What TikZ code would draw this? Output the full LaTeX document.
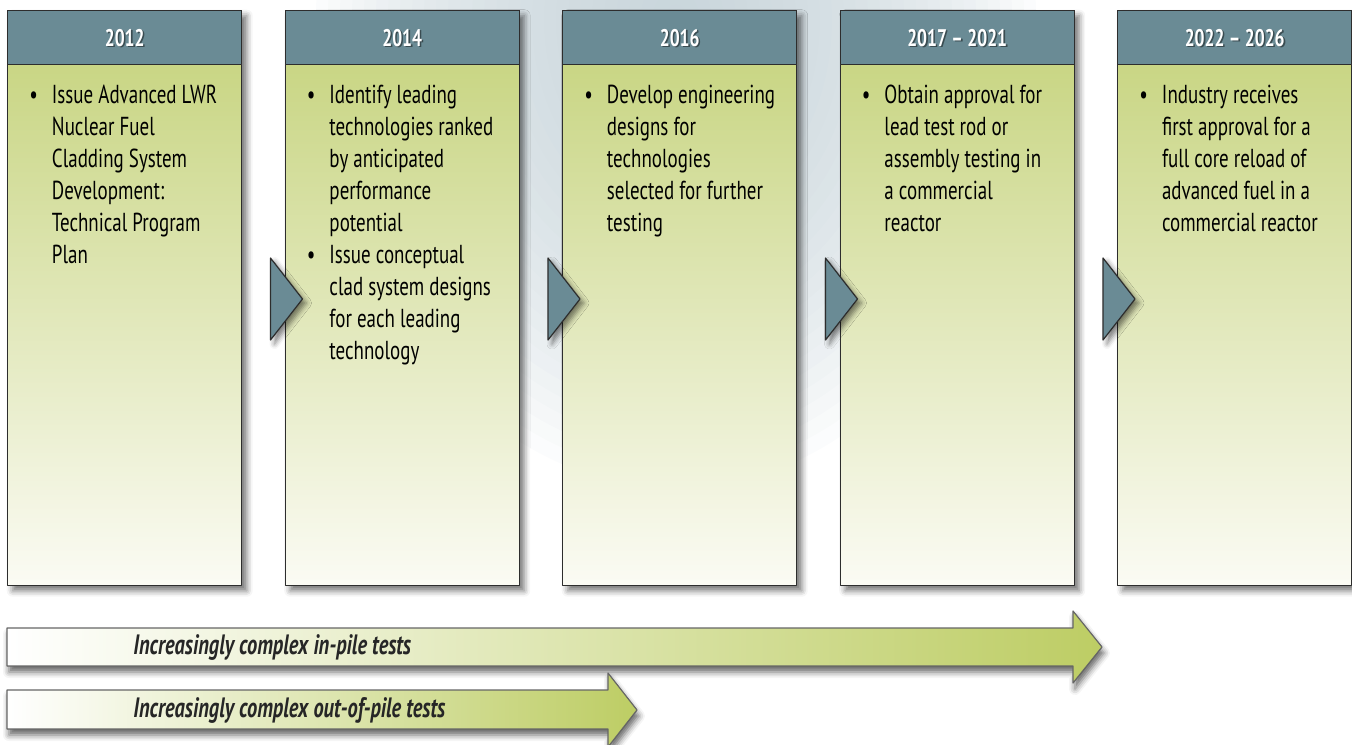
\documentclass[tikz,border=0pt]{standalone}
\usepackage{fontspec}
\setmainfont{PT Sans}[FakeStretch=0.73]
\usetikzlibrary{positioning,shadows.blur}
\definecolor{slate}{RGB}{106,139,149}
\definecolor{leaf}{RGB}{196,210,121}
\definecolor{pale}{RGB}{251,251,244}
\definecolor{haze}{RGB}{190,205,212}
\definecolor{arrowgreen}{RGB}{189,205,100}
\definecolor{edge}{RGB}{45,45,45}
% bullet list with a hanging second column
\newcommand\blist[1]{\begin{tabular}[t]{@{}l@{\hspace{7pt}}l@{}}#1\end{tabular}}
\begin{document}
\begin{tikzpicture}[x=0.5pt,y=-0.5pt,line join=round,font=\fontsize{13}{16}\selectfont]
    \def\gap{277.5}
    \tikzset{box/.style={draw=edge,line width=0.7pt,rectangle,anchor=north west,minimum width=117pt,minimum height=287.5pt,inner sep=0pt,top color=leaf,bottom color=pale,
            blur shadow={shadow xshift=2.5pt,shadow yshift=-2.5pt,shadow blur radius=3pt,shadow opacity=55}},
        head/.style={draw=edge,line width=0.7pt,fill=slate,anchor=north,minimum width=117pt,minimum height=27pt,inner sep=0pt},
        year/.style={text=white,font=\fontsize{12}{14}\selectfont\bfseries},
        tri/.style={draw=edge,line width=0.6pt,fill=slate,blur shadow={shadow xshift=2pt,shadow yshift=-2pt,shadow blur radius=2.5pt,shadow opacity=50}},
        items/.style={anchor=base west,inner sep=0pt,align=left},
        bar/.style={draw=black!60,line width=0.6pt,left color=white,right color=arrowgreen,
            blur shadow={shadow xshift=1pt,shadow yshift=-3pt,shadow blur radius=3pt,shadow opacity=60}},
        tag/.style={anchor=west,inner sep=0pt,text=black!85,font=\fontsize{14}{16}\selectfont\bfseries\itshape}}
    \useasboundingbox (0,0) rectangle (1352,744);

    % soft haze behind the middle columns, built up from thin layers
    \begin{scope}
        \clip (0,0) rectangle (1352,744);
        \foreach \k in {1,...,30}
            \fill[haze,opacity=0.055] (676,20) ellipse [x radius=\k*6pt,y radius=\k*7.8pt];
    \end{scope}

    % the five stages
    \foreach \i/\yr in {1/2012,2/2014,3/2016,4/2017 -- 2021,5/2022 -- 2026}{
        \pgfmathsetmacro\bx{7+(\i-1)*\gap}
        \path (\bx,10)node[box](box\i){};
        \path (box\i.north)node[head](h\i){};
        \path (h\i.center)node[year,text=black,text opacity=0.45,xshift=0.8pt,yshift=-0.8pt]{\yr};
        \path (h\i.center)node[year](y\i){\yr};
    }
    \foreach \i in {2,...,5}{
        \filldraw[tri] (box\i.north west)++(-14,248) -- ++(0,82) -- ++(32,-41) -- cycle;}

    \path (box1.north west)++(22,93)node[items](t1){\blist{\textbullet & Issue Advanced LWR\\ & Nuclear Fuel\\ & Cladding System\\ & Development:\\ & Technical Program\\ & Plan}};
    \path (box2.north west)++(22,93)node[items](t2){\blist{\textbullet & Identify leading\\ & technologies ranked\\ & by anticipated\\ & performance\\ & potential\\
        \textbullet & Issue conceptual\\ & clad system designs\\ & for each leading\\ & technology}};
    \path (box3.north west)++(22,93)node[items](t3){\blist{\textbullet & Develop engineering\\ & designs for\\ & technologies\\ & selected for further\\ & testing}};
    \path (box4.north west)++(22,93)node[items](t4){\blist{\textbullet & Obtain approval for\\ & lead test rod or\\ & assembly testing in\\ & a commercial\\ & reactor}};
    \path (box5.north west)++(22,93)node[items](t5){\blist{\textbullet & Industry receives\\ & first approval for a\\ & full core reload of\\ & advanced fuel in a\\ & commercial reactor}};

    % test campaigns
    \filldraw[bar] (7,628) -- (1073,628) -- ++(0,-17) -- (1102,647) -- (1073,683) -- ++(0,-17) -- (7,666) -- cycle;
    \filldraw[bar] (7,690) -- (608,690) -- ++(0,-17) -- (637,710) -- (608,747) -- ++(0,-18) -- (7,729) -- cycle;
    \node[tag](inpile) at (133,648) {Increasingly complex in-pile tests};
    \node[tag](outpile) at (133,710) {Increasingly complex out-of-pile tests};
\end{tikzpicture}
\end{document}
